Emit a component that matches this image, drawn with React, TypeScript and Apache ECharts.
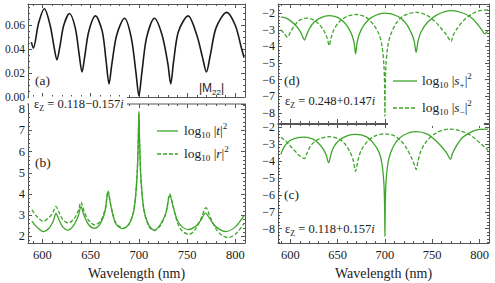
import React, { useEffect, useRef } from "react";
import * as echarts from "echarts";

// ---------- data ----------
const m22: number[][] = [
  [588.5, 0.046], [590.5, 0.041], [596, 0.062], [602, 0.074], [608, 0.06], [612, 0.042], [615, 0.031],
  [618, 0.042], [622, 0.06], [628, 0.07], [634, 0.058], [638, 0.036], [641, 0.021], [644, 0.035],
  [648, 0.055], [655, 0.068], [662, 0.055], [666, 0.03], [669, 0.011], [672, 0.028], [677, 0.052],
  [685, 0.066], [692, 0.05], [697, 0.02], [700, 0.001], [703, 0.02], [708, 0.05], [716, 0.066],
  [724, 0.052], [730, 0.028], [733, 0.011], [736, 0.03], [741, 0.055], [751, 0.068], [760, 0.052],
  [766, 0.033], [770, 0.021], [774, 0.035], [780, 0.058], [791, 0.071], [800, 0.06], [806, 0.042],
  [809, 0.033],
];

const logT: number[][] = [
  [589, 2.72], [594, 2.45], [601, 2.23], [607, 2.4], [611, 2.7], [614, 3.08], [617, 2.8], [621, 2.45],
  [626, 2.3], [632, 2.5], [637, 2.95], [640, 3.4], [643, 3.0], [648, 2.55], [654, 2.38], [660, 2.6],
  [665, 3.2], [668, 4.1], [671, 3.4], [676, 2.6], [683, 2.37], [690, 2.6], [695, 3.3], [698, 4.8],
  [699.3, 6.5], [700, 7.9], [700.7, 6.5], [702, 4.8], [705, 3.3], [710, 2.55], [716, 2.3], [722, 2.55],
  [728, 3.1], [732, 3.95], [735.5, 3.4], [740, 2.75], [745, 2.45], [751, 2.32], [758, 2.45],
  [764, 2.75], [769, 3.1], [774, 2.8], [780, 2.45], [790, 2.23], [800, 2.45], [809, 2.98],
];

const logR: number[][] = [
  [589, 3.26], [594, 2.95], [601, 2.71], [607, 2.9], [611, 3.15], [614, 3.42], [617, 3.15], [621, 2.8],
  [627, 2.63], [633, 2.85], [637, 3.2], [640, 3.62], [643, 3.2], [648, 2.75], [654, 2.55], [660, 2.7],
  [665, 3.3], [668, 4.15], [671, 3.45], [676, 2.65], [684, 2.38], [690, 2.6], [695, 3.3], [698, 4.8],
  [699.3, 6.4], [700, 7.8], [700.7, 6.4], [702, 4.8], [705, 3.3], [710, 2.5], [716, 2.27], [722, 2.5],
  [728, 3.1], [732, 4.0], [735.5, 3.4], [740, 2.65], [745, 2.25], [752, 2.1], [758, 2.3], [764, 2.8],
  [769.5, 3.35], [774, 2.9], [780, 2.35], [786, 2.05], [792, 1.95], [800, 2.1], [809, 2.62],
];

const sPlusD: number[][] = [
  [590, -2.24], [595, -2.28], [600, -2.45], [605, -2.7], [610, -3.05], [613, -3.4], [615, -3.62],
  [617, -3.35], [620, -2.95], [625, -2.55], [632, -2.28], [641, -2.15], [650, -2.25], [656, -2.5],
  [661, -2.85], [665, -3.3], [667.5, -3.8], [669, -4.45], [670.5, -3.8], [673, -3.25], [678, -2.7],
  [686, -2.25], [700, -2.0], [714, -2.2], [722, -2.6], [728, -3.2], [731, -3.7], [733, -4.35],
  [735, -3.7], [738, -3.15], [745, -2.55], [755, -2.1], [770, -1.85], [785, -2.05], [793, -2.35],
  [799, -2.75], [803, -3.05], [805.5, -3.25], [807.5, -3.15], [809, -3.05],
];

const sMinusD: number[][] = [
  [590, -3.0], [594, -3.25], [597, -3.45], [600, -3.15], [605, -2.7], [610, -2.42], [617, -2.3],
  [625, -2.42], [631, -2.7], [636, -3.1], [639, -3.5], [641, -3.95], [643, -3.5], [646, -3.0],
  [652, -2.5], [660, -2.2], [669, -2.08], [680, -2.25], [688, -2.7], [694, -3.3], [697, -4.0],
  [699, -5.2], [699.7, -6.5], [700, -8.2], [700.3, -6.5], [701, -5.2], [703, -4.0], [706, -3.3],
  [712, -2.6], [720, -2.15], [733, -1.95], [745, -2.15], [753, -2.5], [760, -2.95], [765, -3.3],
  [770, -3.7], [772, -3.35], [776, -2.95], [783, -2.45], [792, -2.05], [800, -1.85], [810, -1.8],
];

const sPlusC: number[][] = [
  [590, -3.6], [593, -3.2], [598, -2.85], [605, -2.65], [615, -2.58], [624, -2.7], [630, -2.95],
  [635, -3.3], [638, -3.65], [640.5, -4.1], [643, -3.6], [646, -3.15], [652, -2.75], [660, -2.5],
  [669, -2.42], [680, -2.55], [688, -2.95], [694, -3.5], [697, -4.2], [699, -5.4], [699.7, -6.8],
  [700, -8.45], [700.3, -6.8], [701, -5.4], [703, -4.2], [706, -3.5], [712, -2.85], [720, -2.45],
  [733, -2.25], [745, -2.4], [753, -2.75], [760, -3.15], [765, -3.5], [768, -3.8], [769.5, -3.9],
  [771, -3.6], [775, -3.15], [782, -2.6], [792, -2.25], [800, -2.12], [809, -2.1],
];

const sMinusC: number[][] = [
  [590, -2.58], [595, -2.8], [600, -3.1], [605, -3.4], [610, -3.7], [615, -3.85], [617.5, -3.55],
  [622, -3.05], [630, -2.7], [641, -2.55], [652, -2.7], [658, -3.0], [663, -3.45], [666.5, -3.95],
  [669, -4.6], [671.5, -3.95], [675, -3.35], [682, -2.8], [690, -2.5], [700, -2.38], [710, -2.5],
  [717, -2.8], [723, -3.25], [728, -3.8], [731, -4.2], [733, -4.5], [735, -4.0], [738, -3.4],
  [745, -2.75], [755, -2.3], [768, -2.1], [780, -2.2], [790, -2.45], [798, -2.8], [805, -3.15],
  [809, -3.35],
];

// ---------- styling ----------
const SERIF = "'Liberation Serif', 'Times New Roman', 'DejaVu Serif', serif";
const SANS = "'Liberation Sans', Arial, sans-serif";
const FRAME = "#555";
const GREEN = "#3da62a";
const BLACK = "#1a1a1a";

const LX = [585, 810];
const RX = [587, 810];

function xPair(gi: number, ext: number[], labels: boolean, name?: string, topColor?: string, topWidth?: number) {
  const base = {
    type: "value" as const,
    gridIndex: gi,
    min: ext[0],
    max: ext[1],
    splitNumber: 4,
    splitLine: { show: false },
    axisTick: { inside: true, length: 4, lineStyle: { color: FRAME } },
    minorTick: { show: true, splitNumber: 5, length: 2, lineStyle: { color: FRAME } },
  };
  return [
    {
      ...base,
      position: "bottom",
      axisLine: { onZero: false, lineStyle: { color: FRAME, width: 1 } },
      axisLabel: {
        show: labels, color: "#222", fontFamily: SERIF, fontSize: 12.5, margin: 5,
        showMinLabel: false, showMaxLabel: false,
      },
      name: name || "",
      nameLocation: "middle",
      nameGap: 23,
      nameTextStyle: { fontFamily: SERIF, fontSize: 14, color: "#222" },
    },
    {
      ...base,
      position: "top",
      axisLine: { onZero: false, lineStyle: { color: topColor || FRAME, width: topWidth || 1 } },
      axisLabel: { show: false },
    },
  ];
}

function yPair(
  gi: number, min: number, max: number, split: number, fmt: (v: number) => string,
  minorSplit: number, showMin = false, fontSize = 12,
) {
  const base = {
    type: "value" as const,
    gridIndex: gi,
    min,
    max,
    splitNumber: split,
    splitLine: { show: false },
    axisTick: { inside: true, length: 4, lineStyle: { color: FRAME } },
    minorTick: { show: true, splitNumber: minorSplit, length: 2, lineStyle: { color: FRAME } },
  };
  return [
    {
      ...base,
      position: "left",
      axisLine: { onZero: false, lineStyle: { color: FRAME, width: 1 } },
      axisLabel: {
        show: true, color: "#222", fontFamily: SERIF, fontSize, margin: 3,
        showMinLabel: showMin, showMaxLabel: false, formatter: fmt,
      },
    },
    {
      ...base,
      position: "right",
      axisLine: { onZero: false, lineStyle: { color: FRAME, width: 1 } },
      axisLabel: { show: false },
    },
  ];
}

const minusFmt = (v: number) => (v < 0 ? "\u2212" + Math.abs(v) : String(v));

function line(data: number[][], xi: number, yi: number, color: string, dashed: boolean, width = 1.3) {
  return {
    type: "line" as const,
    data,
    xAxisIndex: xi,
    yAxisIndex: yi,
    showSymbol: false,
    smooth: 0.3,
    lineStyle: { color, width, type: dashed ? [4, 2] : "solid" },
    silent: true,
  };
}

const rich = {
  n: { fontFamily: SERIF, fontSize: 13.5, lineHeight: 18, color: "#222" },
  s: { fontFamily: SERIF, fontSize: 9, lineHeight: 9, verticalAlign: "bottom", color: "#222" },
  p: { fontFamily: SERIF, fontSize: 9, lineHeight: 9, verticalAlign: "top", color: "#222" },
  i: { fontFamily: SERIF, fontSize: 13.5, lineHeight: 18, fontStyle: "italic", color: "#222" },
  e: { fontFamily: SERIF, fontSize: 12.5, lineHeight: 16, color: "#222" },
  es: { fontFamily: SERIF, fontSize: 8, lineHeight: 8, verticalAlign: "bottom", color: "#222" },
  ei: { fontFamily: SERIF, fontSize: 12.5, lineHeight: 16, fontStyle: "italic", color: "#222" },
  m: { fontFamily: SANS, fontSize: 12, lineHeight: 16, color: "#222" },
  ms: { fontFamily: SANS, fontSize: 8, lineHeight: 8, verticalAlign: "bottom", color: "#222" },
  l: { fontFamily: SERIF, fontSize: 13.5, lineHeight: 16, color: "#222" },
};

function txt(x: number, y: number, text: string, extra: any = {}) {
  return {
    type: "text",
    x,
    y,
    z: 110,
    style: {
      text,
      rich,
      fontFamily: SERIF,
      fontSize: 13.5,
      fill: "#222",
      verticalAlign: "middle",
      align: "left",
      ...extra,
    },
  };
}

function seg(x1: number, x2: number, y: number, dashed: boolean) {
  return {
    type: "line",
    z: 110,
    shape: { x1, y1: y, x2, y2: y },
    style: { stroke: GREEN, lineWidth: 1.3, lineDash: dashed ? [4, 2] : null },
  };
}

export default function App() {
  const ref = useRef<HTMLDivElement>(null);
  useEffect(() => {
    const chart = echarts.init(ref.current!, null, { renderer: "svg" });
    const option: any = {
      animation: false,
      backgroundColor: "#fff",
      grid: [
        { left: 28, top: 4, width: 217, height: 93, outerBoundsMode: "none" },
        { left: 28, top: 104, width: 217, height: 139, outerBoundsMode: "none" },
        { left: 278, top: 4, width: 211, height: 119, outerBoundsMode: "none" },
        { left: 278, top: 124, width: 211, height: 119, outerBoundsMode: "none" },
      ],
      xAxis: [
        ...xPair(0, LX, false),
        ...xPair(1, LX, true, "Wavelength (nm)", "#aaa", 2),
        ...xPair(2, RX, false),
        ...xPair(3, RX, true, "Wavelength (nm)"),
      ],
      yAxis: [
        ...yPair(0, 0, 0.078, 4, (v: number) => v.toFixed(2), 4, true, 11.5),
        ...yPair(1, 1.69, 8.24, 6, (v: number) => String(v), 5, false, 12.5),
        ...yPair(2, -8.6, -1.45, 7, minusFmt, 5, false, 12),
        ...yPair(3, -8.85, -1.8, 7, minusFmt, 5, false, 12),
      ],
      series: [
        line(m22, 0, 0, BLACK, false, 1.6),
        line(logT, 2, 2, GREEN, false),
        line(logR, 2, 2, GREEN, true),
        line(sPlusD, 4, 4, GREEN, false),
        line(sMinusD, 4, 4, GREEN, true),
        line(sPlusC, 6, 6, GREEN, false),
        line(sMinusC, 6, 6, GREEN, true),
      ],
      graphic: [
        // white label boxes covering the frames
        { type: "rect", z: 105, shape: { x: 29, y: 96.5, width: 98, height: 14 }, style: { fill: "#fff" } },
        { type: "rect", z: 105, shape: { x: 388, y: 70, width: 96, height: 56 }, style: { fill: "#fff" } },
        // panel (a)
        txt(35, 80, "(a)"),
        txt(199, 88, "{m||M}{ms|22}{m||}"),
        // panel (b)
        txt(34, 104, "{e|ε}{es|Z}{e| = 0.118−0.157}{ei|i}"),
        txt(35, 162, "(b)"),
        seg(157, 178, 131, false),
        seg(157, 178, 154, true),
        txt(184, 130, "{l|log}{s|10}{l| |}{i|t}{l||}{p|2}"),
        txt(184, 153, "{l|log}{s|10}{l| |}{i|r}{l||}{p|2}"),
        // panel (d)
        txt(284, 80, "(d)"),
        txt(285, 101, "{e|ε}{es|Z}{e| = 0.248+0.147}{ei|i}"),
        seg(393, 417, 81, false),
        seg(393, 417, 108, true),
        txt(422, 80, "{l|log}{s|10}{l| |}{i|s}{s|+}{l||}{p|2}"),
        txt(422, 107, "{l|log}{s|10}{l| |}{i|s}{s|−}{l||}{p|2}"),
        // panel (c)
        txt(284, 194, "(c)"),
        txt(285, 229, "{e|ε}{es|Z}{e| = 0.118+0.157}{ei|i}"),
      ],
    };
    chart.setOption(option);
    return () => chart.dispose();
  }, []);
  return (
    <div
      ref={ref}
      style={{ position: "fixed", left: 0, top: 0, width: 495, height: 283, background: "#fff" }}
    />
  );
}
